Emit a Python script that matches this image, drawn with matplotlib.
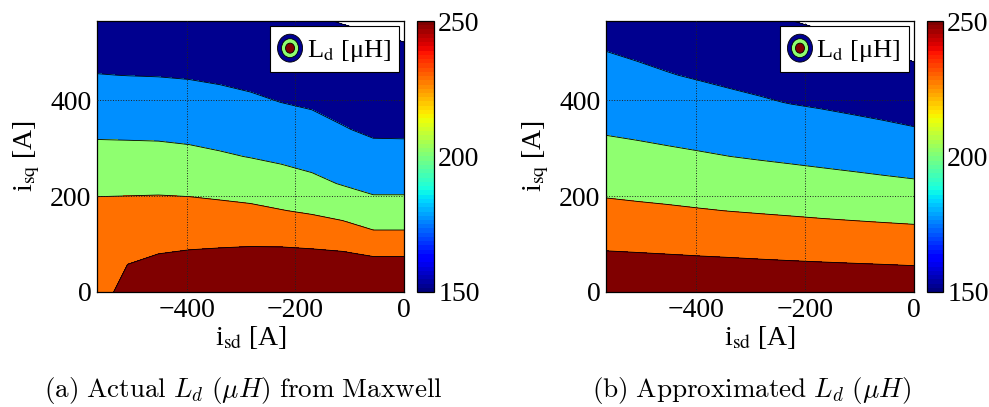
import numpy as np
import matplotlib
matplotlib.use('Agg')
import matplotlib.pyplot as plt
from matplotlib.colors import Normalize
from matplotlib.patches import Ellipse
from matplotlib.legend_handler import HandlerBase
from matplotlib.cm import ScalarMappable

plt.rcParams['font.family'] = ['Liberation Serif', 'DejaVu Serif']
plt.rcParams['mathtext.fontset'] = 'stix'

# grid (A): 0 .. 400*sqrt(2) in 10 steps
isd = [-565.7, -509.1, -452.5, -396.0, -339.4, -282.8, -226.3, -169.7, -113.1, -56.6, 0.0]
isq = [0.0, 56.6, 113.1, 169.7, 226.3, 282.8, 339.4, 396.0, 452.5, 509.1, 565.7]

# Ld [uH] from Maxwell, one list per isd value (going up in isq)
ld_maxwell_cols = [
    [238.4, 236.0, 233.6, 231.2, 219.2, 207.1, 195.8, 185.6, 175.4, 168.5, 161.7],
    [259.9, 250.2, 240.6, 230.9, 220.1, 207.2, 195.2, 185.0, 174.8, 168.0, 161.2],
    [266.0, 254.6, 243.3, 232.0, 219.9, 206.7, 194.9, 184.5, 174.4, 167.6, 160.8],
    [269.6, 257.0, 244.4, 231.8, 218.7, 205.1, 193.5, 183.1, 173.5, 166.7, 159.9],
    [273.0, 258.9, 244.7, 230.6, 216.4, 202.3, 191.2, 180.8, 171.9, 165.1, 158.4],
    [276.7, 260.8, 244.9, 229.0, 213.9, 199.3, 188.6, 178.0, 170.1, 163.3, 156.6],
    [280.0, 262.0, 243.9, 225.7, 209.9, 196.1, 185.4, 174.9, 168.1, 161.3, 154.5],
    [280.0, 261.8, 241.9, 222.3, 205.1, 192.5, 181.8, 172.4, 165.5, 158.6, 151.8],
    [282.0, 261.3, 238.6, 217.2, 198.7, 187.4, 176.1, 169.1, 162.5, 156.0, 149.2],
    [280.0, 258.3, 231.3, 209.4, 193.4, 181.2, 172.0, 165.8, 159.6, 153.4, 147.2],
    [280.0, 258.3, 231.3, 209.4, 193.4, 181.2, 171.7, 165.0, 158.3, 151.5, 144.8],
]

# approximated Ld [uH], same layout
ld_approx_cols = [
    [270.0, 256.8, 243.7, 230.6, 218.7, 207.9, 197.8, 189.8, 181.8, 174.1, 167.8],
    [269.7, 256.2, 242.7, 229.1, 217.2, 206.0, 196.0, 187.4, 178.9, 171.4, 164.7],
    [269.4, 255.5, 241.6, 227.8, 215.6, 204.0, 194.0, 184.9, 175.9, 168.8, 161.9],
    [269.0, 254.7, 240.5, 226.2, 214.0, 202.1, 192.0, 182.3, 173.3, 166.1, 158.9],
    [268.7, 254.0, 239.4, 224.7, 212.4, 200.1, 189.8, 179.5, 170.8, 163.4, 155.9],
    [268.2, 253.2, 238.1, 223.4, 210.7, 198.3, 187.6, 176.9, 168.6, 160.9, 153.1],
    [267.9, 252.4, 237.0, 222.1, 209.1, 196.6, 185.3, 174.3, 166.3, 158.2, 150.2],
    [267.6, 251.7, 235.8, 220.7, 207.4, 194.8, 183.0, 172.4, 164.0, 155.7, 147.4],
    [267.2, 251.0, 234.7, 219.5, 205.8, 192.9, 180.7, 170.3, 161.6, 152.8, 144.0],
    [266.8, 250.3, 233.7, 218.3, 204.0, 191.0, 178.5, 168.1, 158.6, 149.1, 139.6],
    [266.2, 249.5, 232.8, 217.1, 202.3, 189.0, 176.1, 165.4, 155.1, 144.7, 134.2],
]

levels = [150, 175, 200, 225, 250]
captions = [r'$\mathrm{(a)\ Actual\ }L_d\ (\mu H)\mathrm{\ from\ Maxwell}$',
            r'$\mathrm{(b)\ Approximated\ }L_d\ (\mu H)$']

# matlab jet(64) colours at each level
band_colors = [(0, 0, 0.5625), (0, 0.5625, 1), (0.5625, 1, 0.4375), (1, 0.4375, 0), (0.5, 0, 0)]
jet64 = plt.get_cmap('jet', 64)


class ContourIcon(HandlerBase):
    def create_artists(self, legend, orig_handle, xdescent, ydescent, width, height, fontsize, trans):
        cx = 0.5 * width - xdescent
        cy = 0.5 * height - ydescent
        out = []
        for s, c in [(1.0, band_colors[0]), (0.68, band_colors[2]), (0.36, band_colors[4])]:
            e = Ellipse((cx, cy), width * s, height * s, facecolor=c, edgecolor='k', lw=0.6, transform=trans)
            out.append(e)
        return out


fig = plt.figure(figsize=(9.89, 4.07), dpi=100)

panels = [
    (ld_maxwell_cols, [0.0981, 0.2826, 0.3104, 0.6658], [0.4216, 0.2826, 0.0172, 0.6658], 0.2457),
    (ld_approx_cols, [0.6127, 0.2826, 0.3114, 0.6658], [0.9373, 0.2826, 0.0162, 0.6658], 0.760),
]

X, Y = np.meshgrid(isd, isq)
for k, (cols, axpos, cbpos, capx) in enumerate(panels):
    Z = np.array(cols).T
    ax = fig.add_axes(axpos)
    ax.contourf(X, Y, Z, levels=levels + [400], colors=band_colors)
    ax.contour(X, Y, Z, levels=levels, colors='k', linewidths=0.6)
    ax.set_xlim(-565.7, 0)
    ax.set_ylim(0, 565.7)
    ax.set_xticks([-400, -200, 0])
    ax.set_yticks([0, 200, 400])
    ax.set_xticklabels(['\u2212400', '\u2212200', '0'])
    ax.tick_params(length=0, labelsize=20, pad=4)
    ax.set_axisbelow(False)
    ax.grid(True, linestyle=':', color='#222222', linewidth=0.7)
    for sp in ax.spines.values():
        sp.set_linewidth(0.9)
    ax.set_xlabel(r'i$_{\mathrm{sd}}$ [A]', fontsize=20, labelpad=1)
    ax.set_ylabel(r'i$_{\mathrm{sq}}$ [A]', fontsize=20, labelpad=6)

    h = Ellipse((0, 0), 1, 1)
    leg = ax.legend([h], [r'L$_{\mathrm{d}}$ [μH]'], handler_map={Ellipse: ContourIcon()},
                    loc='upper right', fontsize=19, handlelength=0.95, handleheight=1.25,
                    handletextpad=0.15, borderpad=0.3, borderaxespad=0.2,
                    fancybox=False, framealpha=1, edgecolor='k')
    leg.get_frame().set_linewidth(0.8)

    cax = fig.add_axes(cbpos)
    sm = ScalarMappable(norm=Normalize(150, 250), cmap=jet64)
    cb = fig.colorbar(sm, cax=cax, ticks=[150, 200, 250])
    cb.ax.tick_params(length=0, labelsize=20, pad=3)
    cb.outline.set_linewidth(0.9)

    fig.text(capx, 0.003, captions[k], ha='center', va='bottom', fontsize=19.5, math_fontfamily='cm')

fig.savefig('out.png', dpi=100)
